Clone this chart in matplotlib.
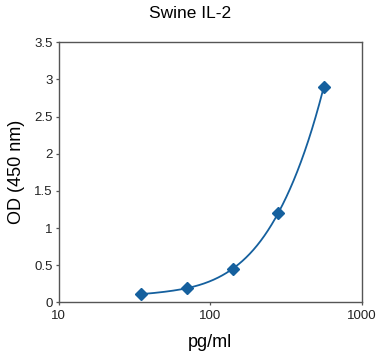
import numpy as np
import matplotlib
matplotlib.use("Agg")
import matplotlib.pyplot as plt

conc = [35, 70, 140, 280, 560]
od = [0.11, 0.19, 0.45, 1.20, 2.90]
yticks = [0, 0.5, 1, 1.5, 2, 2.5, 3, 3.5]
ytick_labels = ["0", "0.5", "1", "1.5", "2", "2.5", "3", "3.5"]
xticks = [10, 100, 1000]
xtick_labels = ["10", "100", "1000"]

plt.rcParams['font.family'] = ['Liberation Sans', 'DejaVu Sans']
color = '#15609e'


def natural_spline(xs, ys, n=400):
    # natural cubic spline through the points, in linear concentration
    x = np.asarray(xs, float)
    y = np.asarray(ys, float)
    k = len(x)
    h = np.diff(x)
    A = np.zeros((k, k))
    b = np.zeros(k)
    A[0, 0] = A[-1, -1] = 1
    for i in range(1, k - 1):
        A[i, i - 1] = h[i - 1]
        A[i, i] = 2 * (h[i - 1] + h[i])
        A[i, i + 1] = h[i]
        b[i] = 3 * ((y[i + 1] - y[i]) / h[i] - (y[i] - y[i - 1]) / h[i - 1])
    c = np.linalg.solve(A, b)
    xx = np.logspace(np.log10(x[0]), np.log10(x[-1]), n)
    idx = np.clip(np.searchsorted(x, xx) - 1, 0, k - 2)
    dx = xx - x[idx]
    bb = (y[1:] - y[:-1]) / h - h * (2 * c[:-1] + c[1:]) / 3
    dd = (c[1:] - c[:-1]) / (3 * h)
    yy = y[idx] + bb[idx] * dx + c[idx] * dx ** 2 + dd[idx] * dx ** 3
    return xx, yy


fig = plt.figure(figsize=(3.8, 3.56), dpi=100)
ax = fig.add_axes([58.7 / 380, 1 - 302.3 / 356, (362 - 58.7) / 380, (302.3 - 42.3) / 356])
ax.set_xscale('log')
ax.set_xlim(10, 1000)
ax.set_ylim(0, 3.5)

sx, sy = natural_spline(conc, od)
ax.plot(sx, sy, color=color, lw=1.3, zorder=2)
ax.plot(conc, od, linestyle='none', marker='D', ms=6.5, color=color, zorder=3)

ax.set_xticks(xticks)
ax.set_xticklabels(xtick_labels)
ax.xaxis.set_minor_locator(matplotlib.ticker.NullLocator())
ax.set_yticks(yticks)
ax.set_yticklabels(ytick_labels)
ax.tick_params(axis='both', direction='out', length=2.2, width=0.9, color='#555555',
               labelsize=9.5, labelcolor='#222222', pad=2)
ax.tick_params(axis='x', pad=3)
for s in ax.spines.values():
    s.set_color('#555555')
    s.set_linewidth(1.0)

ax.set_xlabel('pg/ml', fontsize=13, labelpad=9)
ax.set_ylabel('OD (450 nm)', fontsize=13, labelpad=7)
fig.text(0.5, 1 - 13 / 356, 'Swine IL-2', ha='center', va='center', fontsize=12.5)

fig.savefig('out.png', dpi=100)
